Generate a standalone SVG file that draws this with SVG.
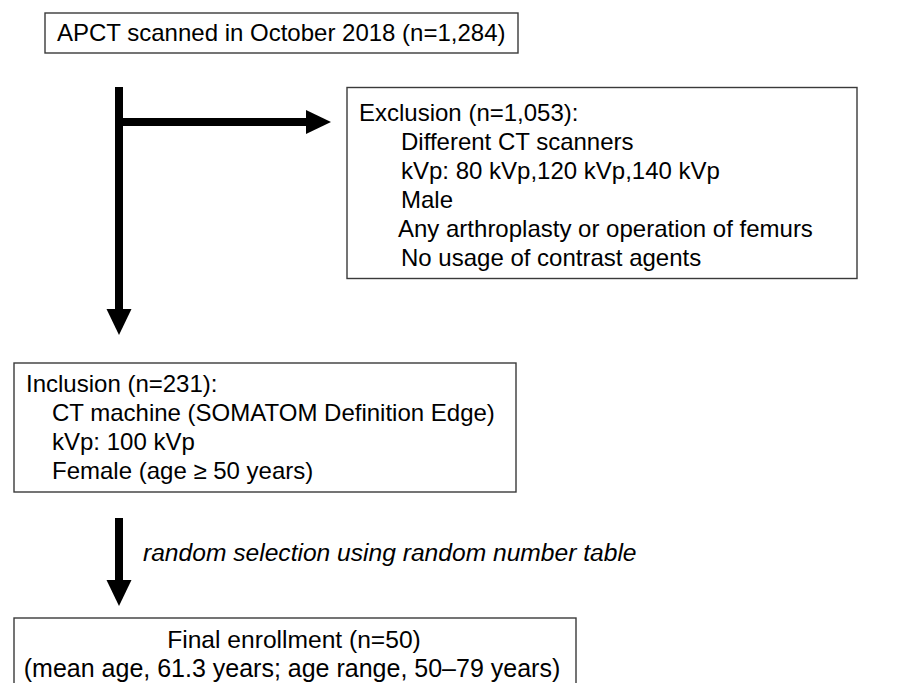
<svg xmlns="http://www.w3.org/2000/svg" width="909" height="683" viewBox="0 0 909 683">
  <style>
    .box { fill: #ffffff; stroke: #3a3a3a; stroke-width: 1.4; }
    .t { font-family: "Liberation Sans", Arial, sans-serif; font-size: 24px; fill: #000000; }
    .it { font-style: italic; }
    .flow { stroke: #000000; stroke-width: 8; fill: none; }
    .head { fill: #000000; }
  </style>
  <rect width="909" height="683" fill="#ffffff"/>

  <g id="connectors">
    <!-- main trunk from the scan box down to the inclusion box -->
    <line class="flow" x1="119" y1="87" x2="119" y2="312"/>
    <polygon class="head" points="106.5,309 131.5,309 119,335"/>
    <!-- branch to the exclusion box -->
    <line class="flow" x1="119" y1="122" x2="309" y2="122"/>
    <polygon class="head" points="306,110 306,134 331,122"/>
    <!-- inclusion to final enrollment -->
    <line class="flow" x1="119" y1="518" x2="119" y2="583"/>
    <polygon class="head" points="106.5,580 131.5,580 119,606"/>
    <text class="t it" x="143" y="561" style="font-size:24.6px">random selection using random number table</text>
  </g>

  <g id="scanned">
    <rect class="box" x="45" y="13" width="473" height="40"/>
    <text class="t" x="57" y="41">APCT scanned in October 2018 (n=1,284)</text>
  </g>

  <g id="exclusion">
    <rect class="box" x="347" y="87.5" width="510" height="191"/>
    <text class="t" x="359" y="121">Exclusion (n=1,053):</text>
    <text class="t" x="401" y="150">Different CT scanners</text>
    <text class="t" x="401" y="178.5">kVp: 80 kVp,120 kVp,140 kVp</text>
    <text class="t" x="401" y="207.5">Male</text>
    <text class="t" x="398" y="236.5">Any arthroplasty or operation of femurs</text>
    <text class="t" x="401" y="265.5">No usage of contrast agents</text>
  </g>

  <g id="inclusion">
    <rect class="box" x="14" y="363" width="502" height="129"/>
    <text class="t" x="26" y="392">Inclusion (n=231):</text>
    <text class="t" x="52" y="421">CT machine (SOMATOM Definition Edge)</text>
    <text class="t" x="52" y="450">kVp: 100 kVp</text>
    <text class="t" x="52" y="479">Female (age ≥ 50 years)</text>
  </g>

  <g id="final">
    <rect class="box" x="14" y="618" width="562" height="80"/>
    <text class="t" x="294" y="648" text-anchor="middle" style="font-size:24.6px">Final enrollment (n=50)</text>
    <text class="t" x="292" y="677" text-anchor="middle" style="font-size:25px">(mean age, 61.3 years; age range, 50–79 years)</text>
  </g>
</svg>
